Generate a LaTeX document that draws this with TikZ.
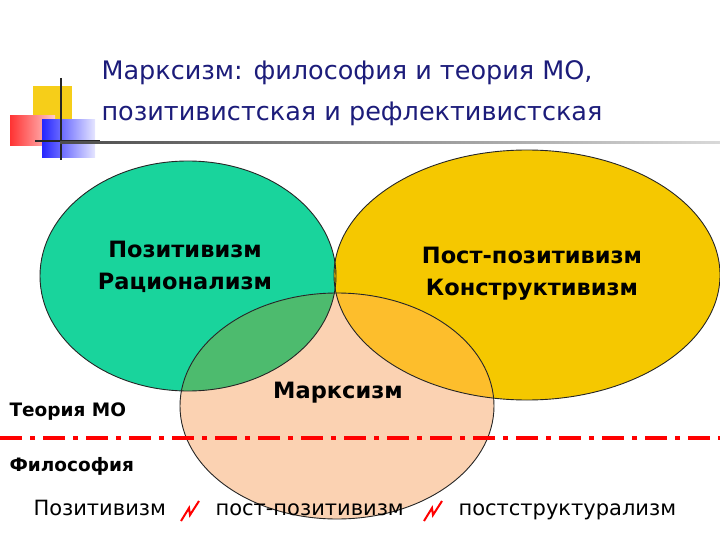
\documentclass[tikz,border=0pt]{standalone}
\usepackage{fontspec}
\setmainfont{DejaVu Sans}
\definecolor{ttl}{HTML}{1C1C7A}
\definecolor{grn}{HTML}{19D49C}
\definecolor{ylw}{HTML}{F5C800}
\definecolor{pch}{HTML}{FBD2B2}
\definecolor{gov}{HTML}{4DBB6E}
\definecolor{yov}{HTML}{FDBE2C}
\begin{document}
\begin{tikzpicture}[x=1pt,y=-1pt,
  lbl/.style={font=\fontsize{22.5}{32}\selectfont\bfseries,align=center,text=black},
  btm/.style={font=\fontsize{21}{25}\selectfont,anchor=base west},
  bolt/.style={red,line width=2pt,line join=miter},
  ell/.style={black!85,line width=0.9pt}]
\useasboundingbox (0,0) rectangle (720,540);
% logo
\fill[ylw!90] (33,86) rectangle (72,122);
\fill[left color=red!80,right color=red!20] (10,116) rectangle (55,146);
\fill[right color=blue!10,left color=blue!85] (42,120) rectangle (95,158);
\draw[line width=1.5pt,black!85] (61,78) -- (61,160);
\draw[line width=1.5pt,black!85] (35,141) -- (100,141);
\shade[left color=black!70,right color=black!15] (60,142) rectangle (720,144);
\node[anchor=base west,text=ttl,font=\fontsize{25.5}{28}\selectfont] (t1) at (98,80) {Марксизм: философия и теория МО,};
\node[anchor=base west,text=ttl,font=\fontsize{25.5}{28}\selectfont] (t2) at (98,121) {позитивистская и рефлективистская};
% ellipses
\fill[grn] (188,276) ellipse [x radius=148,y radius=115];
\fill[ylw] (527,275) ellipse [x radius=193,y radius=125];
\fill[pch] (337,406) ellipse [x radius=157,y radius=113];
\begin{scope}
\clip (337,406) ellipse [x radius=157,y radius=113];
\fill[gov] (188,276) ellipse [x radius=148,y radius=115];
\fill[yov] (527,275) ellipse [x radius=193,y radius=125];
\end{scope}
\draw[ell] (188,276) ellipse [x radius=148,y radius=115];
\draw[ell] (527,275) ellipse [x radius=193,y radius=125];
\draw[ell] (337,406) ellipse [x radius=157,y radius=113];
\node[lbl] (a) at (185,267) {Позитивизм\\Рационализм};
\node[lbl] (b) at (532,274) {Пост-позитивизм\\Конструктивизм};
\node[lbl] (c) at (338,393) {Марксизм};
\node[lbl,anchor=west,font=\fontsize{18.5}{20}\selectfont\bfseries] (d) at (6,412) {Теория МО};
\node[lbl,anchor=west,font=\fontsize{18.5}{20}\selectfont\bfseries] (e) at (6,466) {Философия};
\coordinate (l1) at (0,438);
\coordinate (l2) at (720,438);
\draw[red,line width=3.5pt,dash pattern=on 22pt off 8pt on 5pt off 8pt] (l1) -- (l2);
% bottom
\node[btm] (p1) at (30,515) {Позитивизм};
\node[btm] (p2) at (212,515) {пост-позитивизм};
\node[btm] (p3) at (455,515) {постструктурализм};
\draw[bolt] (181,521) -- (189,508) -- (190,515) -- (199,501);
\draw[bolt] (424,521) -- (432,508) -- (433,515) -- (442,501);
\end{tikzpicture}
\end{document}
